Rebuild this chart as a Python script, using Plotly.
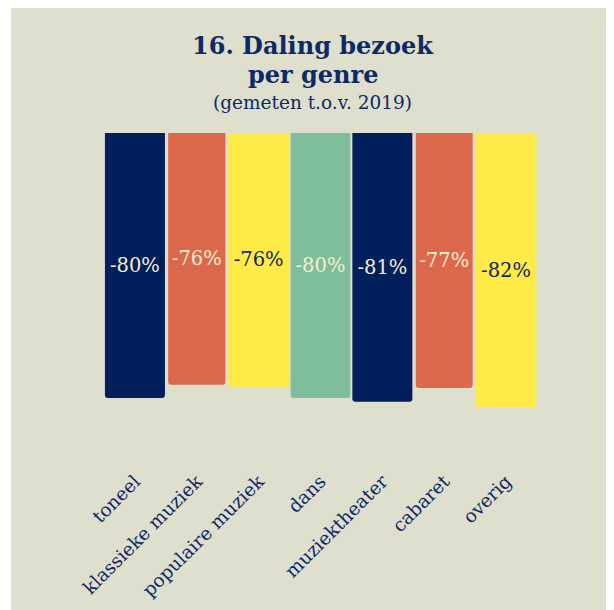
import plotly.graph_objects as go

categories = ["toneel", "klassieke muziek", "populaire muziek", "dans",
              "muziektheater", "cabaret", "overig"]
values = [-79.6, -75.6, -76.2, -79.6, -80.7, -76.6, -82.4]
colors = ["#001f5c", "#dd694c", "#ffea46", "#7fbe9a", "#001f5c", "#dd694c", "#ffea46"]
label_colors = ["#f4edcf", "#f4edcf", "#0d2a66", "#f4edcf", "#f4edcf", "#f4edcf", "#0d2a66"]
bar_widths = [0.97, 0.925, 0.98, 0.965, 0.97, 0.92, 0.98]

# page body has an 8px margin: convert screen pixels to figure pixels
OFF = 8
W, H = 614, 610
L = 104 - OFF
T = 133 - OFF
R = W - (537.4 - OFF)
B = H - (466.5 - OFF)
pw, ph = W - L - R, H - T - B

def px_x(p):
    return (p - OFF - L) / pw

def px_y(p):
    return (H - B - (p - OFF)) / ph

FONT = "DejaVu Serif"
NAVY = "#0d2a66"

fig = go.Figure(go.Bar(
    x=categories, y=values,
    width=bar_widths,
    marker=dict(color=colors, line=dict(width=0)),
    texttemplate="%{y:.0f}%",
    textposition="inside",
    insidetextanchor="middle",
    textangle=0,
    textfont=dict(family=FONT, size=19.5, color=label_colors),
    hoverinfo="skip",
))

fig.update_layout(
    width=W, height=H,
    margin=dict(l=L, r=R, t=T, b=B, pad=0),
    paper_bgcolor="white",
    plot_bgcolor="rgba(0,0,0,0)",
    barcornerradius=3,
    showlegend=False,
    xaxis=dict(tickangle=-45, tickfont=dict(family=FONT, size=18.5, color=NAVY),
               showgrid=False, showline=False, zeroline=False, ticks=""),
    yaxis=dict(range=[-100, 0], visible=False, showgrid=False, zeroline=False),
    shapes=[dict(type="rect", xref="paper", yref="paper", layer="below",
                 x0=px_x(11), x1=px_x(W + 20), y0=px_y(H + 20), y1=px_y(7),
                 fillcolor="#dfdfcd", line=dict(width=0))],
    annotations=[
        dict(text="<b>16. Daling bezoek</b>", xref="paper", yref="paper",
             x=px_x(313), y=px_y(45), xanchor="center", yanchor="middle",
             showarrow=False, font=dict(family=FONT, size=24, color=NAVY)),
        dict(text="<b>per genre</b>", xref="paper", yref="paper",
             x=px_x(313), y=px_y(74), xanchor="center", yanchor="middle",
             showarrow=False, font=dict(family=FONT, size=24, color=NAVY)),
        dict(text="(gemeten t.o.v. 2019)", xref="paper", yref="paper",
             x=px_x(313), y=px_y(102), xanchor="center", yanchor="middle",
             showarrow=False, font=dict(family=FONT, size=18.5, color=NAVY)),
    ],
)

fig.write_html("out.html")
